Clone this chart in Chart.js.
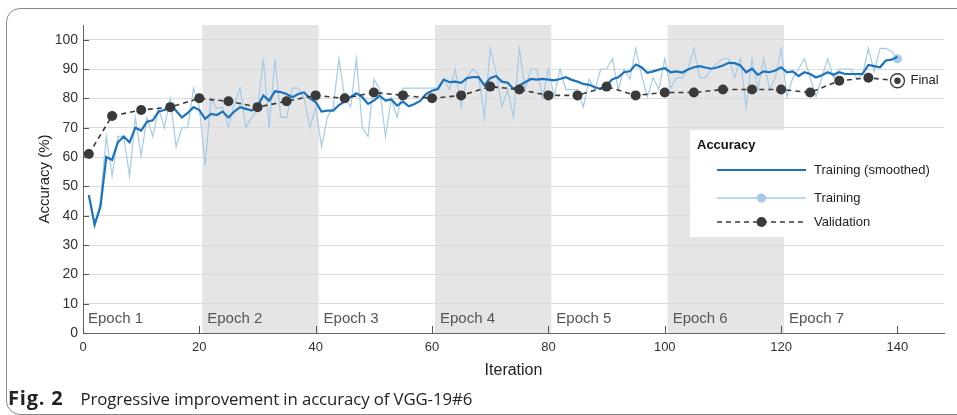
<!DOCTYPE html>
<html>
<head>
<meta charset="utf-8">
<script src="https://cdn.jsdelivr.net/npm/chart.js@4.4.1/dist/chart.umd.min.js"></script>
<style>
  html, body { margin: 0; padding: 0; background: #fff; }
  body { width: 957px; height: 415px; position: relative; overflow: hidden; }
  .frame { position: absolute; left: 6px; top: 8px; width: 1000px; height: 405px;
           border: 1px solid #8a8a8a; border-radius: 14px; }
  .plot { position: absolute; left: 0; top: 0; width: 957px; height: 385px; }
  .caption { position: absolute; left: 8px; top: 384px; font-family: "Open Sans", sans-serif;
             font-size: 16.8px; color: #222; white-space: nowrap; letter-spacing: -0.1px; }
  .caption b { font-size: 20px; letter-spacing: 0.8px; margin-right: 17px; }
</style>
</head>
<body>
<div class="frame"></div>
<div class="plot"><canvas id="acc"></canvas></div>
<div class="caption"><b>Fig. 2</b>Progressive improvement in accuracy of VGG-19#6</div>

<script>
// Training accuracy per iteration (1..140), raw and smoothed
const trainRaw = [
  47, 36, 45, 67, 53.5, 67, 67, 53.5, 73.5, 60.5,
  73.5, 67, 76.5, 70, 80, 63.5, 70, 70, 83.5, 77,
  57, 80, 76.5, 77, 70, 78, 83.5, 70, 73.5, 76,
  93.5, 70, 93.5, 73.5, 73.5, 83.5, 83.5, 80, 70, 77,
  63.5, 73.5, 77, 93.5, 80, 77, 93.5, 70, 67, 86.5,
  83, 67, 80, 73.5, 83.5, 83.5, 83.5, 83.5, 83.5, 83.5,
  83.5, 86.5, 83, 90, 77, 87, 90, 88, 73.5, 97,
  89, 77, 83, 73.5, 97, 83, 90, 90, 80, 90,
  80.5, 90, 83, 83, 83, 77, 86.5, 83, 90, 90,
  93.5, 83, 90, 86.5, 97, 88, 80.5, 87, 83, 93.5,
  83.5, 87, 87, 90, 97, 87, 87, 90, 92, 93.5,
  93.5, 87, 93.5, 77, 93.5, 83, 93.5, 83, 87, 97,
  80.5, 87, 90, 93.5, 87, 80.5, 87, 93.5, 87, 90,
  90, 90, 87, 88, 97, 89, 97, 97, 96, 93.5
];
const trainSmooth = [
  47, 37, 43, 60, 59, 65, 67, 65, 70, 69,
  72, 72.5, 75.5, 76, 78, 75.8, 73.5, 75, 77, 76,
  73, 74.7, 74.3, 75.5, 73.5, 75.5, 77, 76.4, 75.8, 77.3,
  81, 79.2, 82.4, 82.1, 81.5, 80.4, 81.5, 82, 80, 78.7,
  75.5, 75.8, 75.8, 77.7, 79, 80.5, 81.7, 80.4, 78.1, 79.2,
  80.9, 79.2, 79.6, 77.5, 78.9, 77.3, 78.1, 79.2, 81.5, 82.6,
  83.2, 86.4, 85.5, 85.7, 85.3, 86.9, 87.2, 87.2, 84.4, 86.9,
  87.6, 85.7, 85.3, 83.2, 84.4, 85.5, 86.6, 86.4, 86.6, 86.4,
  86.1, 86.6, 87.2, 86.3, 85.7, 84.9, 84.6, 83.8, 83.2, 84.5,
  86.5, 87.2, 88.9, 89.2, 91.5, 90.6, 88.7, 89.2, 89.8, 90.3,
  88.9, 89.2, 88.8, 89.8, 90.6, 91, 90.5, 90.1, 90.5, 91.2,
  92.1, 92, 91.2, 88.9, 90.1, 88, 89.2, 88.9, 89.5, 90.6,
  88.9, 89.2, 87.6, 88.9, 88.3, 87.1, 87.9, 88.9, 88, 88.9,
  88.3, 88.3, 88.3, 88.3, 91.4, 91, 90.6, 92.9, 93.2, 94.2
];

// Validation checks (last one is the final validation)
const valIters = [1, 5, 10, 15, 20, 25, 30, 35, 40, 45, 50, 55, 60, 65, 70,
                  75, 80, 85, 90, 95, 100, 105, 110, 115, 120, 125, 130, 135, 140];
const valAcc = [61, 74, 76, 77, 80, 79, 77, 79, 81, 80, 82, 81, 80, 81, 84,
                83, 81, 81, 84, 81, 82, 82, 83, 83, 83, 82, 86, 87, 86];

const epochStarts = [0, 20.5, 40.5, 60.5, 80.5, 100.5, 120.5];
const epochNames = ['Epoch 1', 'Epoch 2', 'Epoch 3', 'Epoch 4', 'Epoch 5', 'Epoch 6', 'Epoch 7'];
const xTicks = [0, 20, 40, 60, 80, 100, 120, 140];
const yTicks = [0, 10, 20, 30, 40, 50, 60, 70, 80, 90, 100];

const FONT = "'Liberation Sans', Arial, sans-serif";
const BLUE = '#1b73bd';
const LIGHT = '#a5cbe8';
const DARK = '#3a3a3a';

const lastVal = valAcc.length - 1;
const lastTrain = trainRaw.length - 1;

// shaded epochs, epoch names, inward tick marks
const epochPlugin = {
  id: 'epochs',
  beforeDraw(chart) {
    const { ctx, chartArea: a, scales: { x } } = chart;
    ctx.save();
    ctx.fillStyle = '#e5e5e5';
    epochStarts.forEach((s, i) => {
      if (i % 2 === 0) return;
      const end = i + 1 < epochStarts.length ? epochStarts[i + 1] : x.max;
      const x0 = x.getPixelForValue(s);
      const x1 = x.getPixelForValue(end);
      ctx.fillRect(x0, a.top, x1 - x0, a.bottom - a.top);
    });
    ctx.restore();
  },
  afterDatasetsDraw(chart) {
    const { ctx, chartArea: a, scales: { x, y } } = chart;
    ctx.save();
    ctx.font = '15px ' + FONT;
    ctx.fillStyle = '#555';
    ctx.textBaseline = 'alphabetic';
    epochStarts.forEach((s, i) => {
      ctx.fillText(epochNames[i], x.getPixelForValue(s) + 5, a.bottom - 10);
    });
    // ticks pointing inward
    ctx.strokeStyle = '#555';
    ctx.lineWidth = 1;
    ctx.beginPath();
    xTicks.forEach(t => {
      const px = Math.round(x.getPixelForValue(t)) + 0.5;
      ctx.moveTo(px, a.bottom);
      ctx.lineTo(px, a.bottom - 7);
    });
    yTicks.forEach(t => {
      const py = Math.round(y.getPixelForValue(t)) + 0.5;
      ctx.moveTo(a.left, py);
      ctx.lineTo(a.left + 6, py);
    });
    ctx.stroke();

    // "Final" label next to final validation marker
    ctx.font = '13px ' + FONT;
    ctx.fillStyle = '#222';
    ctx.textBaseline = 'middle';
    ctx.fillText('Final', x.getPixelForValue(valIters[lastVal]) + 13, y.getPixelForValue(valAcc[lastVal]));
    ctx.restore();
  },
  afterDraw(chart) {
    const { ctx, chartArea: a } = chart;
    const bx = a.right - 254, by = a.top + 105, bw = 254, bh = 107;
    ctx.save();
    ctx.fillStyle = '#fff';
    ctx.fillRect(bx, by, bw, bh);
    ctx.fillStyle = '#111';
    ctx.textBaseline = 'middle';
    ctx.font = 'bold 13px ' + FONT;
    ctx.fillText('Accuracy', bx + 7, by + 15);

    const lx0 = bx + 27, lx1 = bx + 116, lmid = (lx0 + lx1) / 2, tx = bx + 124;
    const rows = [by + 40, by + 68, by + 92];
    ctx.font = '13px ' + FONT;
    ctx.fillStyle = '#222';

    ctx.strokeStyle = BLUE; ctx.lineWidth = 2.2;
    ctx.beginPath(); ctx.moveTo(lx0, rows[0]); ctx.lineTo(lx1, rows[0]); ctx.stroke();
    ctx.fillText('Training (smoothed)', tx, rows[0]);

    ctx.strokeStyle = LIGHT; ctx.lineWidth = 1.5;
    ctx.beginPath(); ctx.moveTo(lx0, rows[1]); ctx.lineTo(lx1, rows[1]); ctx.stroke();
    ctx.fillStyle = LIGHT;
    ctx.beginPath(); ctx.arc(lmid, rows[1], 4.5, 0, Math.PI * 2); ctx.fill();
    ctx.fillStyle = '#222';
    ctx.fillText('Training', tx, rows[1]);

    ctx.strokeStyle = DARK; ctx.lineWidth = 1.6; ctx.setLineDash([5, 4]);
    ctx.beginPath(); ctx.moveTo(lx0, rows[2]); ctx.lineTo(lx1, rows[2]); ctx.stroke();
    ctx.setLineDash([]);
    ctx.fillStyle = DARK;
    ctx.beginPath(); ctx.arc(lmid, rows[2], 5, 0, Math.PI * 2); ctx.fill();
    ctx.fillStyle = '#222';
    ctx.fillText('Validation', tx, rows[2]);
    ctx.restore();
  }
};

const ctx = document.getElementById('acc').getContext('2d');
new Chart(ctx, {
  type: 'line',
  data: {
    datasets: [
      {
        label: 'Final dot',
        data: [{ x: valIters[lastVal], y: valAcc[lastVal] }],
        showLine: false,
        pointRadius: 3.2,
        pointBackgroundColor: DARK,
        pointBorderWidth: 0
      },
      {
        label: 'Final ring',
        data: [{ x: valIters[lastVal], y: valAcc[lastVal] }],
        showLine: false,
        pointRadius: 7,
        pointBackgroundColor: '#fff',
        pointBorderColor: DARK,
        pointBorderWidth: 1.3
      },
      {
        label: 'Validation',
        data: valIters.map((it, i) => ({ x: it, y: valAcc[i] })),
        borderColor: DARK,
        borderWidth: 1.6,
        borderDash: [5, 4],
        pointRadius: c => (c.dataIndex === lastVal ? 0 : 5),
        pointBackgroundColor: DARK,
        pointBorderWidth: 0
      },
      {
        label: 'Training (smoothed)',
        data: trainSmooth.map((v, i) => ({ x: i + 1, y: v })),
        borderColor: BLUE,
        borderWidth: 2.2,
        pointRadius: 0
      },
      {
        label: 'Training',
        data: trainRaw.map((v, i) => ({ x: i + 1, y: v })),
        borderColor: LIGHT,
        borderWidth: 1.2,
        pointRadius: c => (c.dataIndex === lastTrain ? 4.5 : 0),
        pointBackgroundColor: LIGHT,
        pointBorderWidth: 0
      }
    ]
  },
  options: {
    responsive: true,
    maintainAspectRatio: false,
    animation: false,
    layout: { padding: { top: 25, right: 13, left: 0, bottom: 0 } },
    plugins: {
      legend: { display: false },
      tooltip: { enabled: false }
    },
    elements: { line: { tension: 0 } },
    scales: {
      x: {
        type: 'linear',
        min: 0,
        max: 148,
        afterBuildTicks: s => { s.ticks = xTicks.map(v => ({ value: v })); },
        afterFit: s => { s.height = 52; },
        grid: { drawOnChartArea: false, drawTicks: false },
        border: { color: '#666', width: 1 },
        ticks: { font: { family: FONT, size: 13 }, color: '#333', padding: 7, maxRotation: 0 },
        title: { display: true, text: 'Iteration', font: { family: FONT, size: 16 }, color: '#222',
                 padding: { top: 0, bottom: 5 } }
      },
      y: {
        min: 0,
        max: 105,
        afterBuildTicks: s => { s.ticks = yTicks.map(v => ({ value: v })); },
        afterFit: s => { s.width = 83; },
        grid: { color: '#dcdcdc', drawTicks: false },
        border: { color: '#666', width: 1 },
        ticks: { font: { family: FONT, size: 14 }, color: '#333', padding: 5 },
        title: { display: true, text: 'Accuracy (%)', font: { family: FONT, size: 15 }, color: '#222',
                 padding: { top: 36, bottom: 0 } }
      }
    }
  },
  plugins: [epochPlugin]
});
</script>
</body>
</html>
